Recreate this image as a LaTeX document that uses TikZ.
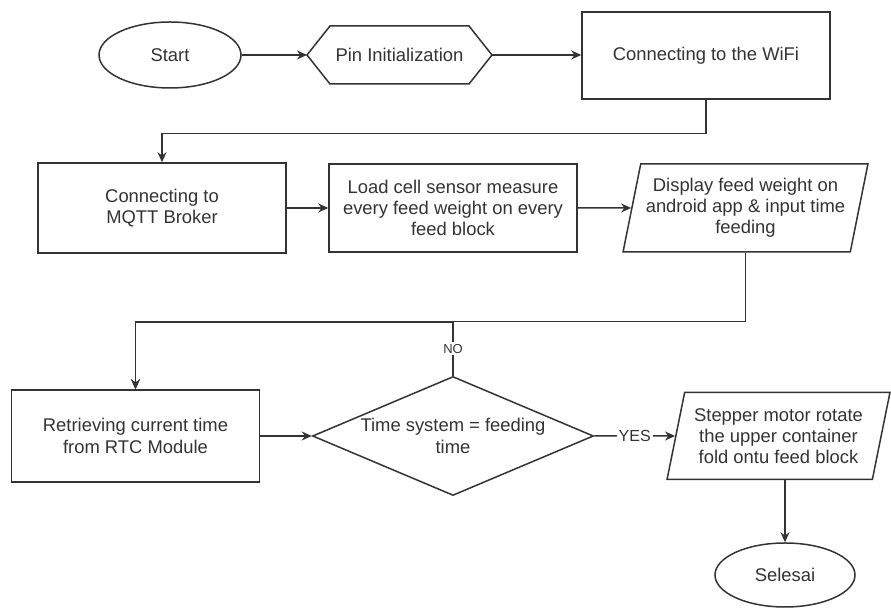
\documentclass[tikz,border=0pt]{standalone}
\usepackage{fontspec}
\setmainfont{Liberation Sans}
\usepackage{tikz}
\usetikzlibrary{arrows.meta, shapes.geometric}
\definecolor{ink}{HTML}{333333}

\begin{document}
\begin{tikzpicture}[x=0.5pt, y=-0.5pt, line width=0.75pt, color=ink,
  >={Stealth[length=5pt, width=4.5pt]},
  font=\fontsize{9.2pt}{10.6pt}\selectfont,
  process/.style={draw, rectangle, minimum width=124pt, minimum height=45pt, align=center},
  terminal/.style={draw, ellipse, minimum width=71pt, minimum height=33pt, inner sep=0pt},
  inout/.style={draw, trapezium, trapezium left angle=76, trapezium right angle=104, trapezium stretches=true, inner xsep=0pt, inner ysep=2pt, minimum height=44pt, align=center},
  decision/.style={draw, diamond, aspect=2.36, minimum width=140.5pt, minimum height=59.5pt, inner sep=0pt, align=center},
  edgelabel/.style={fill=white, inner sep=1pt}]
\useasboundingbox (0,0) rectangle (891,608);
\node[terminal] (start) at (170,55) {Start};
\node[minimum width=92.5pt, minimum height=29pt, outer sep=0pt] (pin) at (399.5,55) {Pin Initialization};
\draw (pin.west) -- ([xshift=11.5pt]pin.north west) -- ([xshift=-11.5pt]pin.north east) -- (pin.east) -- ([xshift=-11.5pt]pin.south east) -- ([xshift=11.5pt]pin.south west) -- cycle;
\node[process, minimum height=43.5pt] (wifi) at (706,55.5) {Connecting to the WiFi};
\node[process] (mqtt) at (162,208) {Connecting to\\MQTT Broker};
\node[process, minimum height=44pt] (load) at (453,208) {Load cell sensor measure\\every feed weight on every\\feed block};
\node[inout, minimum width=122.5pt] (display) at (745.5,208) {Display feed weight on\\android app \& input time\\feeding};
\node[process, minimum height=46pt] (rtc) at (135.5,436) {Retrieving current time\\from RTC Module};
\node[decision] (check) at (453,436) {Time system = feeding\\time};
\node[inout, minimum width=112.5pt, minimum height=43.5pt] (stepper) at (778.5,436) {Stepper motor rotate\\the upper container\\fold ontu feed block};
\node[terminal, minimum width=70pt, minimum height=32pt] (selesai) at (785,575) {Selesai};
\draw [->](start) -- (pin.west);
\draw [->](pin.east) -- (pin.east -| wifi.west);
\draw [->](wifi.south) -- ++(0,34) -| (mqtt.north);
\draw [->](mqtt) -- (load);
\draw [->](load) -- (display);
\draw [->](display.center |- display.south) -- ++(0,69) -| (rtc.north);
\draw [->](rtc) -- (check);
\draw [->](check.north) -- (check.north |- 0,322) node[edgelabel, midway, font=\fontsize{6.5pt}{7pt}\selectfont]{NO} -| (rtc.north);
\draw [->](check.east) -- (stepper) node[edgelabel, midway, font=\fontsize{8pt}{9pt}\selectfont]{YES};
\draw [->](selesai.north |- stepper.south) -- (selesai);
\end{tikzpicture}
\end{document}
